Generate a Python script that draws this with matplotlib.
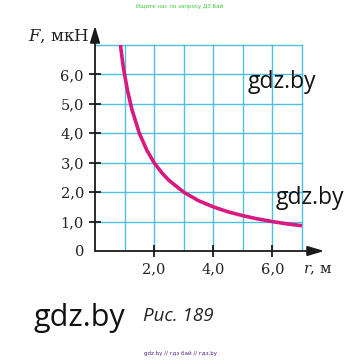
import matplotlib
matplotlib.use("Agg")
import matplotlib.pyplot as plt

plt.rcParams["mathtext.fontset"] = "dejavuserif"

# Data
r_vals = [0.86, 0.95, 1.0, 1.1, 1.25, 1.5, 1.75, 2.0, 2.25, 2.5, 3.0, 3.5, 4.0, 4.5, 5.0, 5.5, 6.0, 6.5, 7.0]
F_vals = [7.0, 6.3, 6.0, 5.45, 4.8, 4.0, 3.43, 3.0, 2.67, 2.4, 2.0, 1.71, 1.5, 1.33, 1.2, 1.09, 1.0, 0.92, 0.86]
y_ticks = [0, 1, 2, 3, 4, 5, 6]
y_labels = ["0", "1,0", "2,0", "3,0", "4,0", "5,0", "6,0"]
x_ticks = [2, 4, 6]
x_labels = ["2,0", "4,0", "6,0"]
grid_max = 7

W, H = 360, 362
fig = plt.figure(figsize=(W / 100, H / 100), dpi=100)
px_x = 29.57
px_y = 29.43
x0, y0 = 95, 251
xmax, ymax = 7.9, 7.9
ax = fig.add_axes([x0 / W, (H - y0) / H, xmax * px_x / W, ymax * px_y / H])
ax.set_xlim(0, xmax)
ax.set_ylim(0, ymax)
for s in ax.spines.values():
    s.set_visible(False)
ax.patch.set_alpha(0)

grid_c = "#4cc0de"
for i in range(1, grid_max + 1):
    ax.plot([i, i], [0, grid_max], color=grid_c, lw=1.0, zorder=1)
    ax.plot([0, grid_max], [i, i], color=grid_c, lw=1.0, zorder=1)

ax.plot(r_vals, F_vals, color="#d8197f", lw=2.6, zorder=3, solid_capstyle="butt")

# axes with arrows
ax.annotate("", xy=(7.75, 0), xytext=(0, 0),
            arrowprops=dict(arrowstyle="-|>,head_length=1.0,head_width=0.3", color="#1a1a1a", lw=1.3,
                            shrinkA=0, shrinkB=0), annotation_clip=False, zorder=4)
ax.annotate("", xy=(0, 7.65), xytext=(0, 0),
            arrowprops=dict(arrowstyle="-|>,head_length=1.0,head_width=0.3", color="#1a1a1a", lw=1.3,
                            shrinkA=0, shrinkB=0), annotation_clip=False, zorder=4)

serif = "DejaVu Serif"
ax.set_yticks(y_ticks)
ax.set_yticklabels(y_labels, fontsize=10.5, family=serif, color="#222222")
ax.set_xticks(x_ticks)
ax.set_xticklabels(x_labels, fontsize=10.5, family=serif, color="#222222")
ax.tick_params(axis="both", direction="inout", length=8, width=1.3, color="#1a1a1a", pad=4)
ax.yaxis.get_major_ticks()[0].tick1line.set_visible(False)

fig.text(28 / W, 1 - 36 / H, "$F$, мкН", fontsize=12, family=serif, color="#222222", va="center")
fig.text(303 / W, 1 - 270 / H, "$r$, м", fontsize=10.5, family=serif, color="#222222", va="center")

# watermarks and caption
fig.text(248 / W, 1 - 82 / H, "gdz.by", fontsize=16.5, family="Open Sans", color="#111111", va="center")
fig.text(276 / W, 1 - 198 / H, "gdz.by", fontsize=16.5, family="Open Sans", color="#111111", va="center")
fig.text(34 / W, 1 - 318 / H, "gdz.by", fontsize=22, family="Open Sans", color="#111111", va="center")
fig.text(143 / W, 1 - 316 / H, "Рис. 189", fontsize=13.5, family="Open Sans", style="italic",
         color="#222222", va="center")
fig.text(180 / W, 1 - 6 / H, "Ищите нас по запросу ДЗ Бай", fontsize=4, family="DejaVu Sans",
         color="#33cc33", ha="center", va="center")
fig.text(180 / W, 1 - 353 / H, "gdz.by // гдз бай // гдз.by", fontsize=4, family="DejaVu Sans",
         color="#552288", ha="center", va="center")

fig.savefig("out.png", dpi=100)
